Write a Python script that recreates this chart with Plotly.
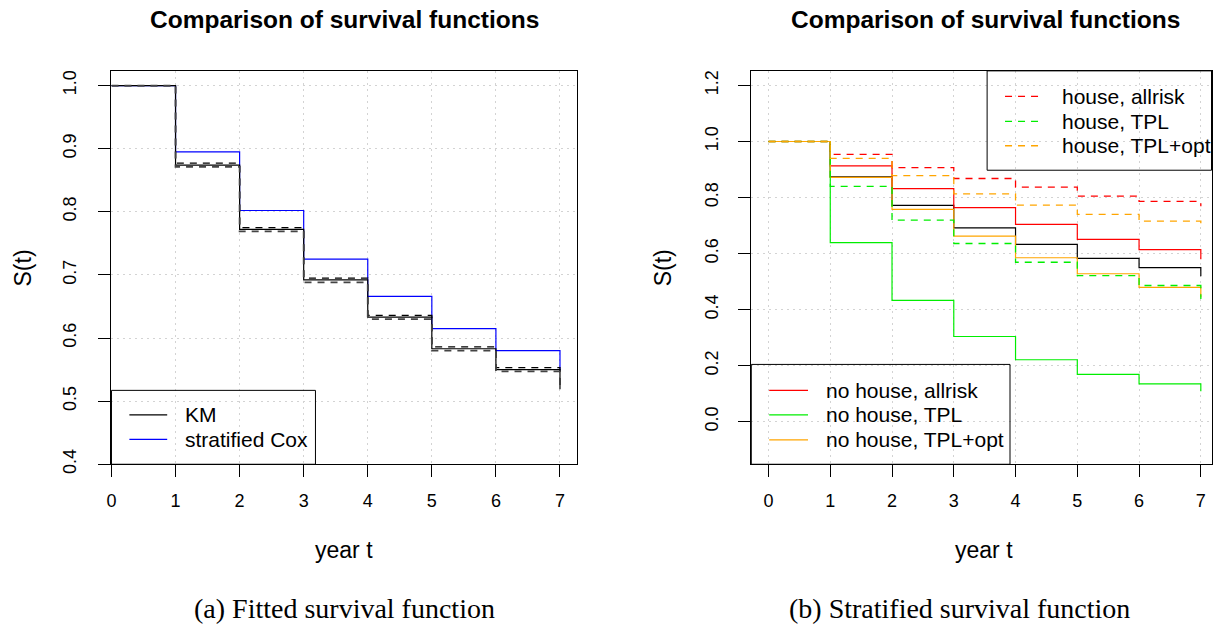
import plotly.graph_objects as go

W, H = 1213, 631
H_EFF = 622  # vertical extent used for placing paper-referenced items

# Time grid (years)
years = [0, 1, 2, 3, 4, 5, 6, 7]

# Left panel: Kaplan-Meier estimate with bands, and stratified Cox fit
km = [1.0, 0.874, 0.772, 0.692, 0.633, 0.583, 0.550, 0.519]
km_upper = [1.0, 0.877, 0.775, 0.695, 0.636, 0.586, 0.553, 0.522]
km_lower = [1.0, 0.871, 0.769, 0.688, 0.630, 0.580, 0.547, 0.516]
strat_cox = [1.0, 0.895, 0.802, 0.725, 0.666, 0.615, 0.580, 0.548]

# Right panel: survival by stratum
nohouse_allrisk = [1.0, 0.913, 0.832, 0.764, 0.704, 0.651, 0.614, 0.580]
nohouse_tpl = [1.0, 0.639, 0.433, 0.304, 0.221, 0.169, 0.135, 0.109]
nohouse_tplopt = [1.0, 0.872, 0.758, 0.662, 0.585, 0.528, 0.479, 0.444]
house_allrisk = [1.0, 0.954, 0.907, 0.868, 0.837, 0.805, 0.786, 0.769]
house_tpl = [1.0, 0.840, 0.719, 0.636, 0.569, 0.521, 0.486, 0.438]
house_tplopt = [1.0, 0.940, 0.878, 0.813, 0.773, 0.740, 0.716, 0.692]

left_yticks = [0.4, 0.5, 0.6, 0.7, 0.8, 0.9, 1.0]
right_yticks = [0.0, 0.2, 0.4, 0.6, 0.8, 1.0, 1.2]

SANS = "Liberation Sans, Arial, sans-serif"
SERIF = "Liberation Serif, Times New Roman, serif"
DASH = "7px,6px"


def px(x):
    return x / W


def py(y):
    return 1 - y / H_EFF


fig = go.Figure()


def step(xs, ys, color, axis, dash="solid", width=1.2):
    xa, ya = axis
    fig.add_trace(go.Scatter(
        x=xs, y=ys, mode="lines", line_shape="hv",
        line=dict(color=color, width=width, dash=dash),
        xaxis=xa, yaxis=ya, showlegend=False, hoverinfo="skip"))


# left panel curves
step(years, strat_cox, "#0000FF", ("x", "y"))
step(years, km, "#000000", ("x", "y"))
step(years, km_upper, "#000000", ("x", "y"), dash=DASH)
step(years, km_lower, "#444444", ("x", "y"), dash=DASH, width=1.8)

# right panel curves
step(years, km, "#000000", ("x2", "y2"))
step(years, nohouse_allrisk, "#FF0000", ("x2", "y2"))
step(years, nohouse_tpl, "#00EE00", ("x2", "y2"))
step(years, nohouse_tplopt, "#FFA500", ("x2", "y2"))
step(years, house_allrisk, "#FF0000", ("x2", "y2"), dash=DASH, width=1.3)
step(years, house_tpl, "#00EE00", ("x2", "y2"), dash=DASH, width=1.3)
step(years, house_tplopt, "#FFA500", ("x2", "y2"), dash=DASH, width=1.3)

top, bottom = 71, 465
axis_common = dict(
    showline=True, linecolor="black", linewidth=1, mirror=True,
    ticks="outside", ticklen=12, tickcolor="black", tickwidth=1,
    showgrid=True, gridcolor="#d3d3d3", griddash="2px,4px", gridwidth=1,
    zeroline=False, tickfont=dict(family=SANS, size=18, color="black"),
)

fig.update_layout(
    width=W, height=H,
    margin=dict(l=0, r=0, t=0, b=0),
    paper_bgcolor="white", plot_bgcolor="white",
    showlegend=False,
    xaxis=dict(domain=[px(107), px(575)], range=[0, 7.268],
               tickvals=years, ticklabelstandoff=8, anchor="y", **axis_common),
    yaxis=dict(domain=[py(bottom), py(top)], range=[0.4, 1.0232],
               tickvals=left_yticks, ticktext=[f"{v:.1f}" for v in left_yticks],
               tickangle=-90, ticklabelstandoff=15, anchor="x", **axis_common),
    xaxis2=dict(domain=[px(750), 1.0], range=[-0.2787, 7.181],
                tickvals=years, ticklabelstandoff=8, anchor="y2", **axis_common),
    yaxis2=dict(domain=[py(bottom), py(top)], range=[-0.152, 1.252],
                tickvals=right_yticks, ticktext=[f"{v:.1f}" for v in right_yticks],
                tickangle=-90, ticklabelstandoff=13, anchor="x2", **axis_common),
)

annotations = []
shapes = []


def text(x, y, s, size, family=SANS, bold=False, angle=0, xanchor="center"):
    annotations.append(dict(
        x=px(x), y=py(y), xref="paper", yref="paper", text=f"<b>{s}</b>" if bold else s,
        showarrow=False, xanchor=xanchor, yanchor="middle", textangle=angle,
        font=dict(family=family, size=size, color="black")))


# titles, axis labels, captions
for cx in (341, 985):
    text(cx, 20, "Comparison of survival functions", 24.5, bold=True)
text(341, 551, "year t", 23)
text(984, 551, "year t", 23)
text(18, 268, "S(t)", 23, angle=-90)
text(661, 268, "S(t)", 23, angle=-90)
text(341, 609, "(a) Fitted survival function", 28, family=SERIF)
text(959, 609, "(b) Stratified survival function", 28, family=SERIF)


def legend_box(x0, y0, x1, y1, entries, lx0, lx1, tx):
    shapes.append(dict(type="rect", xref="paper", yref="paper",
                       x0=px(x0), x1=px(x1), y0=py(y1), y1=py(y0),
                       line=dict(color="black", width=1), fillcolor="rgba(0,0,0,0)",
                       layer="above"))
    for (label, color, dash, yy) in entries:
        shapes.append(dict(type="line", xref="paper", yref="paper",
                           x0=px(lx0), x1=px(lx1), y0=py(yy), y1=py(yy),
                           line=dict(color=color, width=1.3, dash=dash), layer="above"))
        text(tx, yy, label, 21, xanchor="left")


legend_box(107, 391, 312, 465,
           [("KM", "#000000", "solid", 415.5),
            ("stratified Cox", "#0000FF", "solid", 440)],
           125, 163, 179)
legend_box(987, 71, 1212.5, 170.5,
           [("house, allrisk", "#FF0000", DASH, 96.5),
            ("house, TPL", "#00EE00", DASH, 121.5),
            ("house, TPL+opt", "#FFA500", DASH, 146)],
           1005, 1042, 1060)
legend_box(750, 365, 1010, 465,
           [("no house, allrisk", "#FF0000", "solid", 391),
            ("no house, TPL", "#00EE00", "solid", 415.5),
            ("no house, TPL+opt", "#FFA500", "solid", 440.5)],
           768, 807, 823)

fig.update_layout(annotations=annotations, shapes=shapes)
fig.write_html("out.html")
